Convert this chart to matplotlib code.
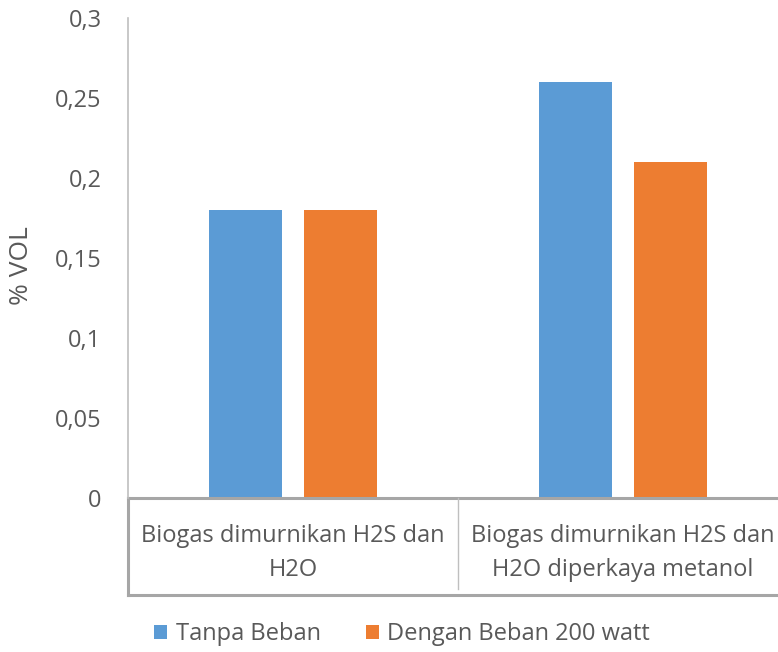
import numpy as np
import matplotlib.pyplot as plt
from matplotlib.patches import Patch

### Data
categories = ['Biogas dimurnikan H2S dan\nH2O', 'Biogas dimurnikan H2S dan\nH2O diperkaya metanol']
series_names = ['Tanpa Beban', 'Dengan Beban 200 watt']
tanpa_beban = [0.18, 0.26]
dengan_beban = [0.18, 0.21]
y_ticks = [0, 0.05, 0.1, 0.15, 0.2, 0.25, 0.3]
y_tick_labels = ['0', '0,05', '0,1', '0,15', '0,2', '0,25', '0,3']

blue = '#5B9BD5'
orange = '#ED7D31'
grey_text = '#595959'
box_grey = '#A6A6A6'

plt.rcParams['font.family'] = ['Open Sans', 'DejaVu Sans']

W, H = 778, 652
fig = plt.figure(figsize=(W / 100, H / 100), dpi=100)
# plot area in pixels: left 128, right ~788 (past the edge), zero at 498, top 18
ax = fig.add_axes([128 / W, (H - 498) / H, 660 / W, 480 / H])

x = np.arange(len(categories))
bw = 0.224
ax.bar(x - 0.144, tanpa_beban, bw, color=blue)
ax.bar(x + 0.144, dengan_beban, bw, color=orange)

ax.set_xlim(-0.5, 1.5)
ax.set_ylim(0, 0.3)
ax.set_yticks(y_ticks)
ax.set_yticklabels(y_tick_labels, fontsize=17, color=grey_text)
ax.tick_params(axis='y', length=0, pad=19)
ax.set_xticks([])

for s in ['top', 'right', 'bottom']:
    ax.spines[s].set_visible(False)
ax.spines['left'].set_color('#BFBFBF')
ax.spines['left'].set_linewidth(1.2)

ax.set_ylabel('% VOL', fontsize=19, color=grey_text)
ax.yaxis.set_label_coords(-0.142, 0.485)

# category box under the axis
tr = ax.get_xaxis_transform()
box_bottom = -97 / 480
ax.plot([-0.5, 1.5], [0, 0], transform=tr, color=box_grey, lw=2.2, clip_on=False)
ax.plot([-0.5, 1.5], [box_bottom, box_bottom], transform=tr, color=box_grey, lw=2.2, clip_on=False)
ax.plot([-0.5, -0.5], [0, box_bottom], transform=tr, color=box_grey, lw=2.2, clip_on=False)
ax.plot([0.5, 0.5], [0, box_bottom + 0.012], transform=tr, color='#BFBFBF', lw=1.0, clip_on=False)

for i, cat in enumerate(categories):
    ax.text(i, -55 / 480, cat, transform=tr, ha='center', va='center',
            fontsize=17, color=grey_text, linespacing=1.5)

handles = [Patch(facecolor=blue, label=series_names[0]),
           Patch(facecolor=orange, label=series_names[1])]
fig.legend(handles=handles, loc='center', bbox_to_anchor=(402 / W, (H - 634) / H),
           ncol=2, frameon=False, fontsize=17, labelcolor=grey_text,
           handlelength=0.55, handleheight=0.55, handletextpad=0.35, columnspacing=1.9)

fig.savefig('out.png', dpi=100)
